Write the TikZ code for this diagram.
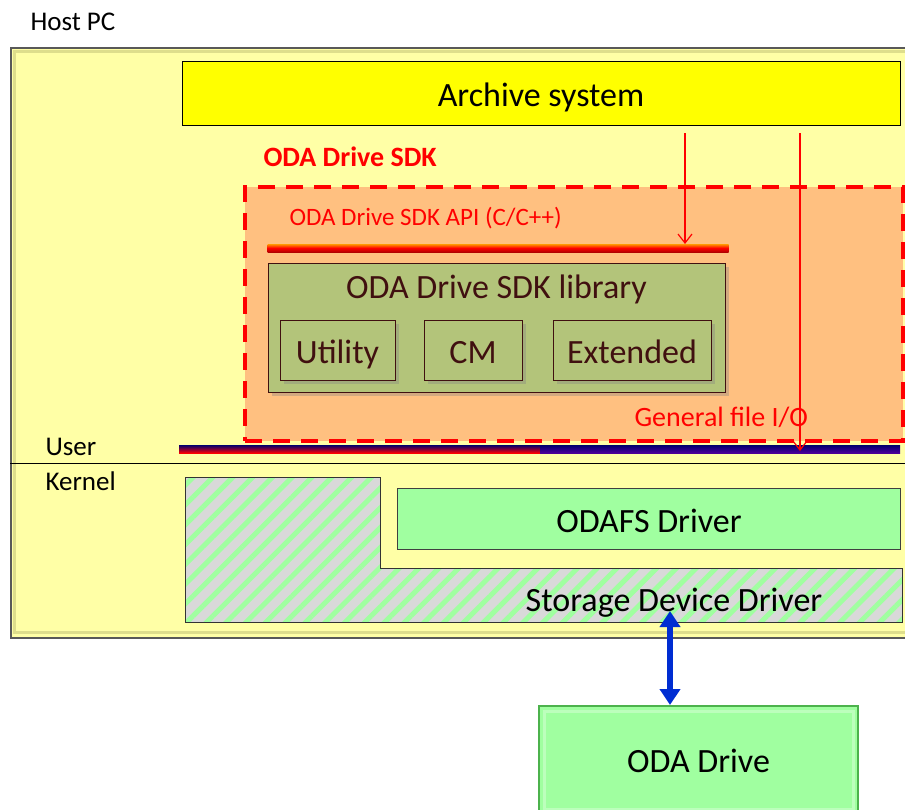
\documentclass[tikz,border=0pt]{standalone}
\usepackage{fontspec}
\setmainfont{Carlito}
\usetikzlibrary{arrows.meta,shadows,patterns.meta}

\definecolor{hostfill}{RGB}{255,255,166}
\definecolor{hostedge}{RGB}{222,222,140}
\definecolor{archfill}{RGB}{255,255,0}
\definecolor{sdkfill}{RGB}{255,192,128}
\definecolor{libfill}{RGB}{179,196,122}
\definecolor{libtext}{RGB}{64,16,16}
\definecolor{drvfill}{RGB}{160,255,160}
\definecolor{hatchgray}{RGB}{217,217,217}
\definecolor{busblue}{RGB}{0,45,210}
\definecolor{navy}{RGB}{0,0,110}

\tikzset{
  big/.style={font=\fontsize{34}{40}\selectfont, text height=26pt, text depth=0pt},
  small/.style={font=\fontsize{27}{32}\selectfont, anchor=west},
  box/.style={draw, inner sep=0pt, big},
  libbox/.style={box, draw=libtext, fill=libfill, text=libtext, line width=1pt,
    drop shadow={opacity=.35, shadow xshift=4pt, shadow yshift=-4pt}},
  greenbox/.style={box, fill=drvfill, draw=black!75, line width=1pt},
  hatched/.style={preaction={fill=hatchgray}, pattern={Lines[angle=45,distance=14pt,line width=5pt]},
    pattern color=drvfill, draw=black!80, line width=1pt},
  ioarrow/.style={draw=red, line width=1.2pt, -{Straight Barb[length=9pt,width=14pt]}},
  busarrow/.style={draw=busblue, line width=6pt, {Triangle[width=20pt,length=16pt]}-{Triangle[width=20pt,length=16pt]}}
}

\begin{document}
\begin{tikzpicture}[x=1pt,y=-1pt]
\useasboundingbox (0,0) rectangle (905,809);
\clip (0,0) rectangle (905,809);
\fill[white] (0,0) rectangle (905,809);

% host PC
\node[small] (hostname) at (27,22) {Host PC};
\node[anchor=north west, inner sep=0pt, minimum width=920pt, minimum height=590pt,
  fill=hostfill, draw=gray!70!black, line width=1.5pt] (host) at (10,47) {};
\draw[hostedge, line width=3pt] (14.5,51.5) rectangle (925,632.5);

\node[box, fill=archfill, minimum width=718pt, minimum height=64pt] (archive) at (541,93) {Archive system};

% SDK
\node[small, text=red, font=\fontsize{28}{32}\selectfont\bfseries] (sdkname) at (260,157) {ODA Drive SDK};
\node[inner sep=0pt, minimum width=658pt, minimum height=254pt, fill=sdkfill, draw=red,
  line width=4pt, dash pattern=on 17pt off 11pt] (sdk) at (574,314) {};
\node[small, text=red, font=\fontsize{25}{30}\selectfont] (apiname) at (286,218) {ODA Drive SDK API (C/C++)};
\node[inner sep=0pt, minimum width=461pt, minimum height=8pt, top color=orange!80!yellow,
  bottom color=red!70!black, middle color=red] (api) at (498,248) {};

\node[libbox, minimum width=457pt, minimum height=129pt] (lib) at (496.5,327.5) {};
\node[big, text=libtext] (libname) at (496.5,285) {ODA Drive SDK library};
\node[libbox, minimum width=115pt, minimum height=60pt] (util) at (337.5,350) {Utility};
\node[libbox, minimum width=98pt, minimum height=60pt] (cm) at (473,350) {CM};
\node[libbox, minimum width=158pt, minimum height=60pt] (ext) at (632,350) {Extended};
\node[small, text=red, font=\fontsize{28}{32}\selectfont] (fioname) at (631,417) {General file I/O};

% user / kernel
\shade[top color=navy, bottom color=red] (179,445) rectangle (540,453);
\shade[top color=navy, bottom color=navy!70!magenta] (540,445) rectangle (900,453);
\draw[line width=1pt] (host.west |- 0,463) -- (905,463);
\node[small] (user) at (42,447) {User};
\node[small] (kernel) at (42,481) {Kernel};

\coordinate (apiin) at (685,244);
\coordinate (fio) at (800,451);
\draw[ioarrow] (archive.south -| apiin) ++(0,8) -- (apiin);
\draw[ioarrow] (archive.south -| fio) ++(0,8) -- (fio);

% drivers
\draw[hatched] (185,477) -| (380,568) -| (902,622) -| cycle;
\node[big] (storage) at (674,598) {Storage Device Driver};
\node[greenbox, minimum width=503pt, minimum height=61pt] (odafs) at (649,519) {ODAFS Driver};

% drive
\node[greenbox, minimum width=319pt, minimum height=106pt, draw=green!40!gray, line width=2pt] (drive) at (698.5,759) {ODA Drive};
\draw[drvfill!70!white, line width=3pt] (544,711) rectangle (853.5,809);
\coordinate (busend) at (670,611);
\draw[busarrow] (busend) -- (busend |- drive.north);
\end{tikzpicture}
\end{document}
